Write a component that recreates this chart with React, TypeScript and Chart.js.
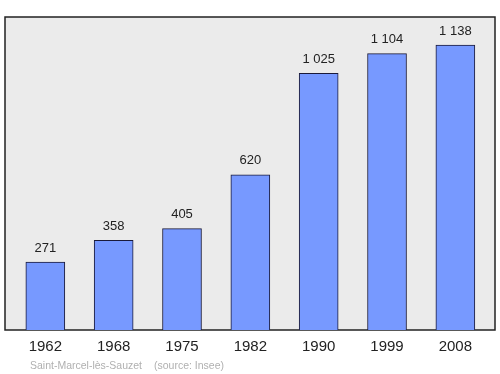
import React, { useEffect, useRef } from "react";
import { Chart, registerables } from "chart.js";

Chart.register(...registerables);

const years = ["1962", "1968", "1975", "1982", "1990", "1999", "2008"];
const population = [271, 358, 405, 620, 1025, 1104, 1138];
const placeName = "Saint-Marcel-lès-Sauzet";
const sourceText = "(source: Insee)";

const fmt = (v: number) => {
  const s = String(v);
  return s.length > 3 ? s.slice(0, s.length - 3) + " " + s.slice(-3) : s;
};

const bgPlugin = {
  id: "bgPlugin",
  beforeDatasetsDraw(chart: any) {
    const { ctx, chartArea: a } = chart;
    ctx.save();
    ctx.fillStyle = "#ebebeb";
    ctx.fillRect(a.left, a.top, a.right - a.left, a.bottom - a.top);
    ctx.strokeStyle = "#222";
    ctx.lineWidth = 1.5;
    ctx.strokeRect(a.left, a.top, a.right - a.left, a.bottom - a.top);
    ctx.restore();
  },
  afterDatasetsDraw(chart: any) {
    const { ctx } = chart;
    const meta = chart.getDatasetMeta(0);
    ctx.save();
    ctx.fillStyle = "#222";
    ctx.font = "13px 'Liberation Sans', Arial, sans-serif";
    ctx.textAlign = "center";
    ctx.textBaseline = "alphabetic";
    meta.data.forEach((el: any, i: number) => {
      ctx.fillText(fmt(population[i]), el.x, el.y - 10.5);
    });
    ctx.font = "10.5px 'Liberation Sans', Arial, sans-serif";
    ctx.fillStyle = "#b0b0b0";
    ctx.textAlign = "left";
    ctx.fillText(placeName, 30, 369);
    ctx.fillText(sourceText, 154, 369);
    ctx.restore();
  },
};

export default function App() {
  const ref = useRef<HTMLCanvasElement>(null);
  useEffect(() => {
    document.body.style.margin = "0";
    const chart = new Chart(ref.current!, {
      type: "bar",
      data: {
        datasets: [
          {
            data: population.map((v, i) => ({ x: i, y: v })),
            backgroundColor: "#7799ff",
            borderColor: "#1a1a3a",
            borderWidth: 1,
            barThickness: 39,
          },
        ],
      },
      options: {
        animation: false,
        responsive: false,
        layout: { padding: { top: 17, left: 5, right: 5, bottom: 10 } },
        plugins: { legend: { display: false }, tooltip: { enabled: false } },
        scales: {
          x: {
            type: "linear",
            offset: false,
            min: -0.59,
            max: 6.58,
            grid: { display: false, drawTicks: false, tickLength: 0 },
            border: { display: false },
            afterBuildTicks(scale: any) {
              scale.ticks = years.map((_, i) => ({ value: i }));
            },
            ticks: {
              autoSkip: false,
              maxRotation: 0,
              padding: 8,
              color: "#222",
              font: { size: 15, family: "'Liberation Sans', Arial, sans-serif" },
              callback: (v: any) => years[v as number] ?? "",
            },
          },
          y: {
            display: false,
            min: 0,
            max: 1250,
          },
        },
      },
      plugins: [bgPlugin],
    });
    return () => chart.destroy();
  }, []);
  return (
    <div style={{ width: 500, height: 374, position: "relative" }}>
      <canvas ref={ref} width={500} height={374} style={{ display: "block" }} />
    </div>
  );
}
